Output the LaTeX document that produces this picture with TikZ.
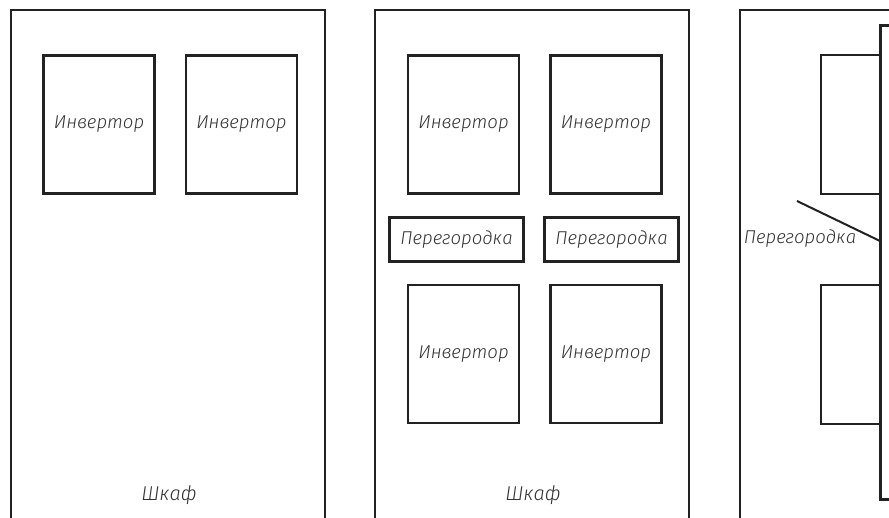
\documentclass[tikz,border=0pt]{standalone}
\usepackage{fontspec}
\setmainfont{Fira Sans Light}[ItalicFont={Fira Sans Light Italic}]
\usetikzlibrary{positioning}
\definecolor{ink}{HTML}{222222}
\definecolor{txt}{HTML}{333333}
\tikzstyle{cabinet} = [rectangle, minimum width=314pt, minimum height=520pt, draw=ink, line width=2pt]
\tikzstyle{inverter} = [rectangle, minimum width=111pt, minimum height=138pt, draw=ink, line width=2.4pt, text=txt, font=\itshape\fontsize{18.6}{20}\selectfont]
\tikzstyle{partition} = [rectangle, minimum width=134pt, minimum height=44pt, draw=ink, line width=3pt, text=txt, font=\itshape\fontsize{18.6}{20}\selectfont]
\tikzstyle{caption} = [text=txt, font=\itshape\fontsize{18.6}{20}\selectfont]
\tikzstyle{slot} = [rectangle, minimum width=59pt, minimum height=139pt, draw=ink, line width=2pt]

\begin{document}
\begin{tikzpicture}[x=1pt, y=-1pt]
\useasboundingbox (0,0) rectangle (889,518);

% first cabinet
\node (cab1) [cabinet] at (168,270) {};
\node (inv11) [inverter] at (99,124.5) {Инвертор};
\node (inv12) [inverter, right=29pt of inv11] {Инвертор};
\node (name1) [caption, font=\itshape\fontsize{20}{22}\selectfont] at (169,495) {Шкаф};

% second cabinet
\node (cab2) [cabinet] at (532,270) {};
\node (inv21) [inverter] at (463.5,124.5) {Инвертор};
\node (inv22) [inverter, right=29pt of inv21] {Инвертор};
\node (part21) [partition] at (456.5,239.5) {Перегородка};
\node (part22) [partition] at (611.5,239.5) {Перегородка};
\node (inv23) [inverter, below=89pt of inv21] {Инвертор};
\node (inv24) [inverter, right=29pt of inv23] {Инвертор};
\node (name2) [caption, font=\itshape\fontsize{20}{22}\selectfont] at (533,495) {Шкаф};

% third cabinet, side view
\node (cab3) [cabinet] at (897,270) {};
\node (wall) [rectangle, minimum width=100pt, minimum height=474pt, draw=ink, line width=3pt] at (930,262.5) {};
\node (slot31) [slot] at (850.5,124.5) {};
\node (slot32) [slot] at (850.5,354.5) {};
\node (part3) [caption] at (800,239) {Перегородка};
\coordinate (lead) at (797,201);
\coordinate (hit) at (880,241);
\draw [ink, line width=2pt] (lead) -- (hit);

\end{tikzpicture}
\end{document}
